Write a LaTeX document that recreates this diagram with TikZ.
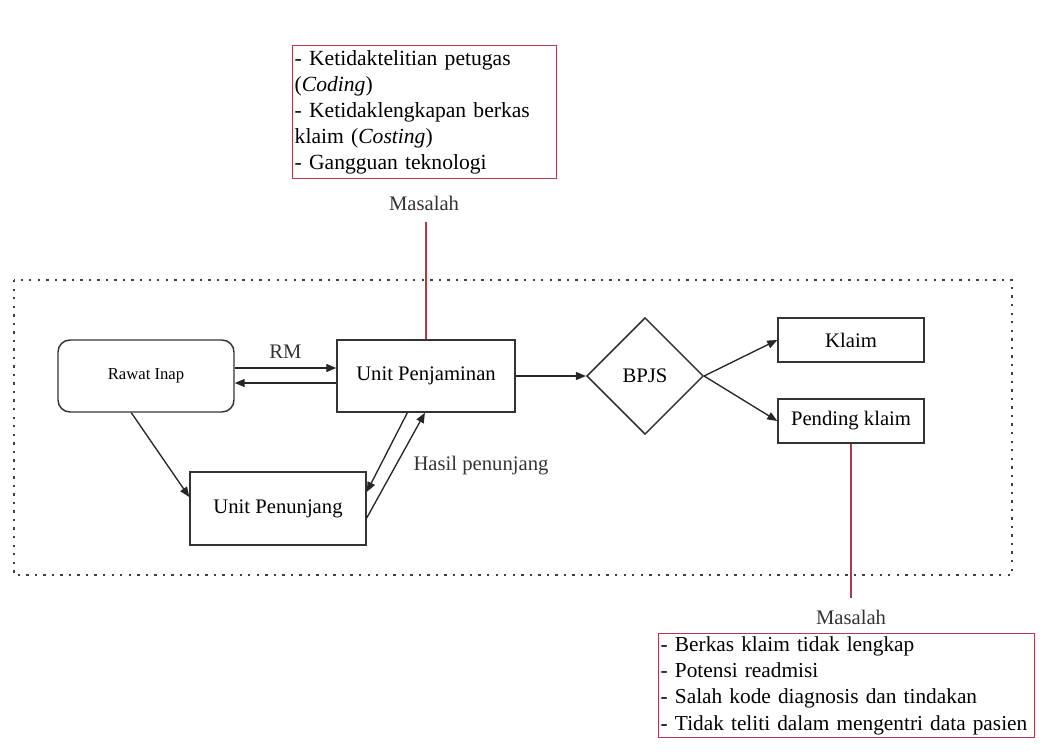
\documentclass[tikz,border=0pt]{standalone}
\usepackage{fontspec}
\setmainfont{Liberation Serif}
\usetikzlibrary{shapes.geometric,arrows.meta,calc}
\definecolor{probred}{RGB}{178,58,72}
\begin{document}
\begin{tikzpicture}[x=0.75pt,y=-0.75pt,
  boxn/.style={draw=black!80,line width=1.1pt,inner sep=0pt,align=center,font=\fontsize{15.5}{18}\selectfont},
  arr/.style={draw=black!85,line width=1pt,-{Triangle[length=7.5pt,width=6pt]}},
  probbox/.style={draw=probred,line width=1.1pt,inner sep=1.5pt,align=left,anchor=north west},
  lbl/.style={font=\fontsize{15.5}{18}\selectfont,text=black!80},
  redline/.style={draw=probred,line width=1pt}]
\useasboundingbox (0,0) rectangle (1048,752);
% dotted frame
\draw[line width=1.8pt,black!75,dash pattern=on 1.8pt off 4.6pt] (14,280) rectangle (1012,575);
% nodes
\node[boxn,rounded corners=9pt,minimum width=132pt,minimum height=54pt,font=\fontsize{12.5}{15}\selectfont] (ri) at (146,376) {Rawat Inap};
\node[boxn,minimum width=133.5pt,minimum height=54pt] (uj) at (426,376) {Unit Penjaminan};
\node[boxn,minimum width=132pt,minimum height=54.75pt] (upn) at (278,508.5) {Unit Penunjang};
\node[boxn,diamond,aspect=1,minimum size=87.5pt] (bp) at (645,376) {BPJS};
\node[boxn,minimum width=109.5pt,minimum height=33pt] (kl) at (851,340) {Klaim};
\node[boxn,minimum width=109.5pt,minimum height=33pt] (pk) at (851,421) {Pending klaim};
% problem boxes
\node[probbox,text width=195pt,minimum height=99.75pt,font=\fontsize{16.2}{19.6}\selectfont] (p1) at (292,45) {\mbox{- Ketidaktelitian petugas}\\(\textit{Coding})\\\mbox{- Ketidaklengkapan berkas}\\klaim (\textit{Costing})\\- Gangguan teknologi};
\node[lbl] (m1) at (424,203) {Masalah};
\coordinate (t1) at (426,222);
\node[lbl] (m2) at (851,617) {Masalah};
\coordinate (t2) at (851,598);
\node[probbox,text width=279pt,minimum height=78pt,font=\fontsize{16}{19.6}\selectfont] (p2) at (658,633) {\mbox{- Berkas klaim tidak lengkap}\\\mbox{- Potensi readmisi}\\\mbox{- Salah kode diagnosis dan tindakan}\\\mbox{- Tidak teliti dalam mengentri data pasien}};
% red lines
\draw[redline] (uj.north) -- (t1);
\draw[redline] (pk.south) -- (t2);
% connectors
\draw[arr] ([yshift=6pt]ri.east) -- node[lbl,above=3pt] (rm) {RM} ([yshift=6pt]uj.west);
\draw[arr] ([yshift=-5.25pt]uj.west) -- ([yshift=-5.25pt]ri.east);
\draw[arr] ([xshift=-11pt]ri.south) -- ([yshift=8.6pt]upn.west);
\draw[arr] ([xshift=-14pt]uj.south) -- ([yshift=12.4pt]upn.east);
\draw[arr] ([yshift=-7.1pt]upn.east) -- ([xshift=-0.8pt]uj.south);
\node[lbl] (hp) at (481,466) {Hasil penunjang};
\draw[arr] (uj.east) -- (bp.west);
\draw[arr] (bp.east) -- (kl.west);
\draw[arr] (bp.east) -- (pk.west);
\end{tikzpicture}
\end{document}
